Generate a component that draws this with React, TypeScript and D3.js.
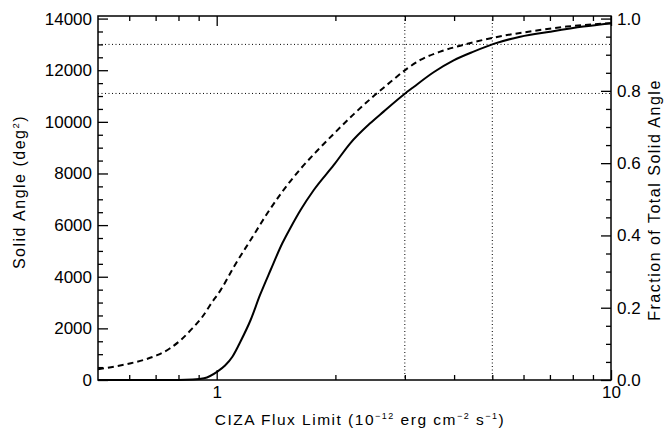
import React, { useRef, useEffect } from "react";
import * as d3 from "d3";

// flux limit (1e-12 erg/cm2/s) vs cumulative solid angle (deg^2)
const fluxDashed = [0.5, 0.55, 0.606, 0.66, 0.709, 0.76, 0.811, 0.86, 0.92, 0.97, 1.024, 1.106, 1.219, 1.344, 1.467, 1.632, 1.798, 1.982, 2.227, 2.502, 2.757, 3.039, 3.285, 3.69, 4.147, 5.04, 6.36, 7.72, 10];
const angleDashed = [420, 520, 650, 800, 970, 1220, 1550, 1940, 2450, 2980, 3490, 4390, 5424, 6457, 7296, 8180, 8880, 9540, 10300, 11000, 11540, 12060, 12397, 12720, 12950, 13262, 13520, 13690, 13820];
const fluxSolid = [0.5, 0.8, 0.87, 0.929, 1.004, 1.05, 1.096, 1.15, 1.219, 1.288, 1.37, 1.467, 1.539, 1.632, 1.763, 1.982, 2.181, 2.45, 2.65, 2.978, 3.159, 3.549, 3.989, 4.481, 5.04, 5.885, 7.01, 8.51, 10];
const angleSolid = [0, 0, 15, 66, 325, 560, 900, 1500, 2324, 3293, 4261, 5296, 5900, 6586, 7361, 8330, 9169, 9944, 10396, 11050, 11350, 11920, 12380, 12720, 13020, 13300, 13494, 13690, 13820];

const fluxMarks = [3, 5];
const angleMarks = [11100, 13000];

const xMajor = [1, 10];
const xMinor = [0.6, 0.7, 0.8, 0.9, 2, 3, 4, 5, 6, 7, 8, 9];
const yMajor = d3.range(0, 14001, 2000);
const yMinor = d3.range(0, 14001, 500).filter((v) => v % 2000 !== 0);
const fracMajor = [0, 0.2, 0.4, 0.6, 0.8, 1.0];
const fracMinor = d3.range(0, 20).map((i) => i * 0.05).filter((_, i) => i % 4 !== 0);

const App = () => {
  const svgRef = useRef(null);

  useEffect(() => {
    document.body.style.margin = "0";
    const width = 672;
    const height = 432;
    const left = 98, right = 611, top = 16, bottom = 380;
    const font = "'Liberation Sans', Arial, sans-serif";

    const svg = d3.select(svgRef.current);
    svg.selectAll("*").remove();
    svg.attr("width", width).attr("height", height);

    const x = d3.scaleLog().domain([0.5, 10]).range([left, right]);
    const y = d3.scaleLinear().domain([0, 14100]).range([bottom, top]);
    const yFrac = d3.scaleLinear().domain([0, 14100 / 14000]).range([bottom, top]);

    // dotted guides
    svg.append("g")
      .selectAll("line")
      .data(fluxMarks)
      .enter()
      .append("line")
      .attr("x1", (d) => x(d)).attr("x2", (d) => x(d))
      .attr("y1", top).attr("y2", bottom)
      .attr("stroke", "#000").attr("stroke-width", 1).attr("stroke-dasharray", "1,2.5");
    svg.append("g")
      .selectAll("line")
      .data(angleMarks)
      .enter()
      .append("line")
      .attr("x1", left).attr("x2", right)
      .attr("y1", (d) => y(d)).attr("y2", (d) => y(d))
      .attr("stroke", "#000").attr("stroke-width", 1).attr("stroke-dasharray", "1,2.5");

    // curves
    const line = d3.line().curve(d3.curveMonotoneX);
    svg.append("path")
      .attr("d", line(fluxDashed.map((f, i) => [x(f), y(angleDashed[i])])))
      .attr("fill", "none").attr("stroke", "#000").attr("stroke-width", 2)
      .attr("stroke-dasharray", "6,4");
    svg.append("path")
      .attr("d", line(fluxSolid.map((f, i) => [x(f), y(angleSolid[i])])))
      .attr("fill", "none").attr("stroke", "#000").attr("stroke-width", 2);

    // axes (ticks pointing inward)
    const styleAxis = (g) => {
      g.select(".domain").remove();
      g.selectAll("line").attr("stroke", "#000").attr("stroke-width", 1.3);
      g.selectAll("text").attr("font-family", font).attr("font-size", 17).attr("fill", "#000");
    };

    svg.append("g").attr("transform", `translate(0,${bottom})`)
      .call(d3.axisBottom(x).tickValues(xMajor).tickSize(-10).tickPadding(6).tickFormat(d3.format("d")))
      .call(styleAxis);
    svg.append("g").attr("transform", `translate(0,${bottom})`)
      .call(d3.axisBottom(x).tickValues(xMinor).tickSize(-5).tickFormat(() => ""))
      .call(styleAxis);
    svg.append("g").attr("transform", `translate(0,${top})`)
      .call(d3.axisTop(x).tickValues(xMajor).tickSize(-10).tickFormat(() => ""))
      .call(styleAxis);
    svg.append("g").attr("transform", `translate(0,${top})`)
      .call(d3.axisTop(x).tickValues(xMinor).tickSize(-5).tickFormat(() => ""))
      .call(styleAxis);

    svg.append("g").attr("transform", `translate(${left},0)`)
      .call(d3.axisLeft(y).tickValues(yMajor).tickSize(-10).tickPadding(6).tickFormat(d3.format("d")))
      .call(styleAxis);
    svg.append("g").attr("transform", `translate(${left},0)`)
      .call(d3.axisLeft(y).tickValues(yMinor).tickSize(-5).tickFormat(() => ""))
      .call(styleAxis);

    svg.append("g").attr("transform", `translate(${right},0)`)
      .call(d3.axisRight(yFrac).tickValues(fracMajor).tickSize(-10).tickPadding(6).tickFormat(d3.format(".1f")))
      .call(styleAxis);
    svg.append("g").attr("transform", `translate(${right},0)`)
      .call(d3.axisRight(yFrac).tickValues(fracMinor).tickSize(-5).tickFormat(() => ""))
      .call(styleAxis);

    // frame
    svg.append("rect")
      .attr("x", left).attr("y", top)
      .attr("width", right - left).attr("height", bottom - top)
      .attr("fill", "none").attr("stroke", "#000").attr("stroke-width", 1.5);

    // titles
    const xt = svg.append("text")
      .attr("x", 360).attr("y", 425)
      .attr("text-anchor", "middle")
      .attr("font-family", font).attr("font-size", 15.5).attr("letter-spacing", 1.5);
    xt.append("tspan").text("CIZA Flux Limit (10");
    xt.append("tspan").attr("dy", -6).attr("font-size", 9).text("−12");
    xt.append("tspan").attr("dy", 6).text(" erg cm");
    xt.append("tspan").attr("dy", -6).attr("font-size", 9).text("−2");
    xt.append("tspan").attr("dy", 6).text(" s");
    xt.append("tspan").attr("dy", -6).attr("font-size", 9).text("−1");
    xt.append("tspan").attr("dy", 6).text(")");

    const yt = svg.append("text")
      .attr("transform", `translate(25,192) rotate(-90)`)
      .attr("text-anchor", "middle")
      .attr("font-family", font).attr("font-size", 16).attr("letter-spacing", 1.5);
    yt.append("tspan").text("Solid Angle (deg");
    yt.append("tspan").attr("dy", -6).attr("font-size", 9.5).text("2");
    yt.append("tspan").attr("dy", 6).text(")");

    svg.append("text")
      .attr("transform", `translate(660,200) rotate(-90)`)
      .attr("text-anchor", "middle")
      .attr("font-family", font).attr("font-size", 16).attr("letter-spacing", 1.5)
      .text("Fraction of Total Solid Angle");
  }, []);

  return <svg ref={svgRef} style={{ display: "block", background: "#fff" }}></svg>;
};

export default App;
